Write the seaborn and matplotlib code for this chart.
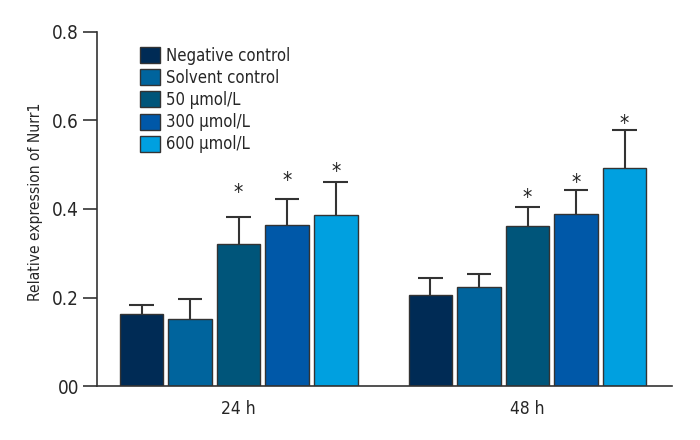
import numpy as np
import pandas as pd
import matplotlib
matplotlib.use('Agg')
import matplotlib.pyplot as plt
import seaborn as sns

# data
times = ['24 h', '48 h']
groups = ['Negative control', 'Solvent control', '50 μmol/L', '300 μmol/L', '600 μmol/L']
vals_24 = [0.163, 0.152, 0.322, 0.364, 0.386]
vals_48 = [0.205, 0.223, 0.362, 0.388, 0.493]
err_24 = [0.021, 0.044, 0.059, 0.059, 0.074]
err_48 = [0.038, 0.030, 0.042, 0.055, 0.085]
# gap between error cap and asterisk centre (None = not significant)
star_24 = [None, None, 0.061, 0.047, 0.029]
star_48 = [None, None, 0.027, 0.023, 0.020]
colors = ['#002b55', '#00649d', '#00557a', '#0058a8', '#00a0e0']

sns.set_style('white')
plt.rcParams['font.family'] = ['DejaVu Sans']
plt.rcParams['font.stretch'] = 'condensed'

df = pd.DataFrame({
    'time': np.repeat(times, len(groups)),
    'group': groups * len(times),
    'value': vals_24 + vals_48,
})

fig = plt.figure(figsize=(7, 4.4), dpi=100)
ax = fig.add_axes([0.1386, 0.1227, 0.8214, 0.8046])
sns.barplot(data=df, x='time', y='value', hue='group', hue_order=groups,
            palette=colors, width=0.84, gap=0.1, errorbar=None,
            edgecolor='#333333', linewidth=1, ax=ax, saturation=1, zorder=2)

# error bars and stars, placed from the bars seaborn drew
errs = {('24 h', g): e for g, e in zip(groups, err_24)}
errs.update({('48 h', g): e for g, e in zip(groups, err_48)})
stars = {('24 h', g): s for g, s in zip(groups, star_24)}
stars.update({('48 h', g): s for g, s in zip(groups, star_48)})
bars = [p for p in ax.patches if p.get_height() > 0]
k = 0
for g in groups:
    for t in times:
        p = bars[k]
        k += 1
        w = p.get_width()
        xc = p.get_x() + w / 2
        h = p.get_height()
        e = errs[(t, g)]
        ax.vlines(xc, h, h + e, color='#333333', lw=1.5, zorder=1)
        ax.hlines(h + e, xc - w * 0.28, xc + w * 0.28, color='#333333', lw=1.5, zorder=1)
        if stars[(t, g)] is not None:
            ax.text(xc, h + e + stars[(t, g)] - 0.029, '*', ha='center', va='bottom',
                    fontsize=15, color='#222222')

ax.set_ylim(0, 0.8)
ax.set_xlim(-0.49, 1.5)
ax.set_yticks([0, 0.2, 0.4, 0.6, 0.8])
ax.set_yticklabels(['00', '0.2', '0.4', '0.6', '0.8'])
ax.tick_params(axis='y', length=10, width=1.2, color='#333333', labelsize=13.5, left=True, pad=3)
ax.tick_params(axis='x', length=0, labelsize=12.5, pad=10)
ax.set_xlabel('')
ax.set_ylabel('Relative expression of Nurr1', fontsize=11.2)
ax.yaxis.set_label_coords(-0.094, 0.52)
sns.despine(ax=ax)
for s in ['left', 'bottom']:
    ax.spines[s].set_color('#333333')
    ax.spines[s].set_linewidth(1.2)

leg = ax.legend(loc='upper left', bbox_to_anchor=(0.064, 0.977), frameon=False,
                fontsize=12, handlelength=1.2, handleheight=1.1, handletextpad=0.35,
                labelspacing=0.25, borderaxespad=0)

fig.savefig('out.png', dpi=100)
